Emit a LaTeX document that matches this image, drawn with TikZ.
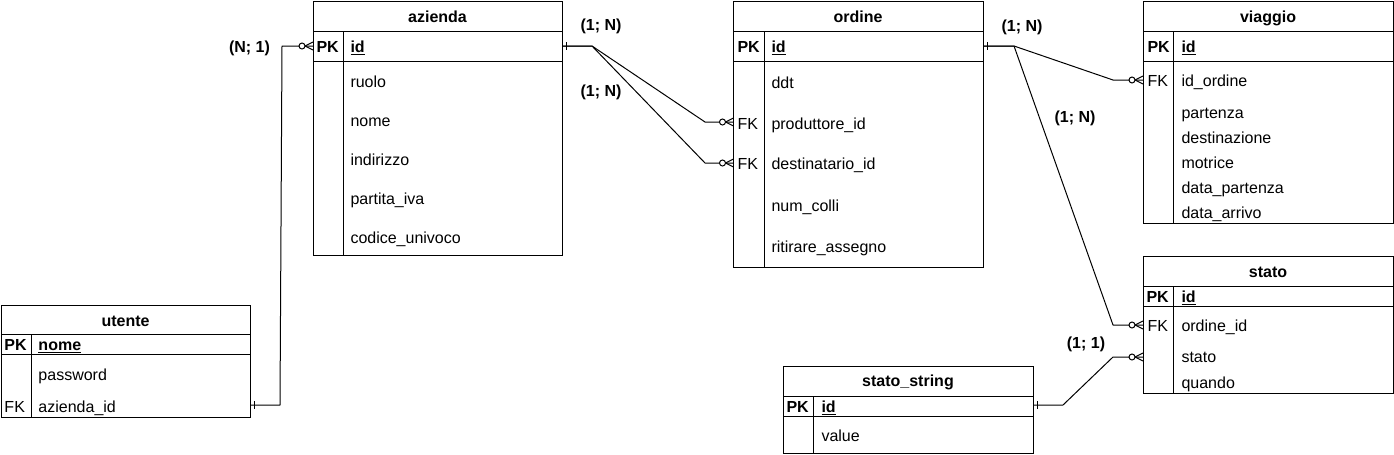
\documentclass[tikz,border=0pt]{standalone}
\usepackage{fontspec}
\setmainfont{Liberation Sans}
\usetikzlibrary{fit}
\tikzset{
  tbl/.style={draw, inner sep=0pt, outer sep=0pt},
  hdr/.style={anchor=base, inner sep=0pt, font=\bfseries\fontsize{12}{14}\selectfont},
  key/.style={anchor=base west, inner sep=0pt, font=\bfseries\fontsize{12}{14}\selectfont},
  fld/.style={anchor=base west, inner sep=0pt, font=\fontsize{12}{14}\selectfont},
  card/.style={anchor=center, inner sep=0pt, font=\bfseries\fontsize{12}{14}\selectfont},
  conn/.style={draw, line join=round},
  zmany/.pic={
    \draw (-8,0) -- (0,-4) (-8,0) -- (0,4);
    \draw[fill=white] (-11,0) circle (3);
  },
  oneend/.pic={\draw (4,-4) -- (4,4);}
}
\begin{document}
\begin{tikzpicture}[x=0.75pt,y=-0.75pt,line width=0.75pt]
\useasboundingbox (0,0) rectangle (1394,454);

% ---------- azienda ----------
\node[tbl, fit={(313,1)(562,255)}] (azienda) {};
\draw (313,31) -- (562,31) (313,61) -- (562,61) (343,31) -- (343,255);
\node[hdr] (az-h) at (437.5,22) {azienda};
\node[key] (az-pk) at (316,52) {PK};
\node[key] (az-id) at (350,52) {\underline{id}};
\node[fld] (az-r1) at (350,87.5) {ruolo};
\node[fld] (az-r2) at (350,126.5) {nome};
\node[fld] (az-r3) at (350,165.5) {indirizzo};
\node[fld] (az-r4) at (350,204.5) {partita\_iva};
\node[fld] (az-r5) at (350,243.5) {codice\_univoco};

% ---------- ordine ----------
\node[tbl, fit={(733.5,1)(983,267)}] (ordine) {};
\draw (733.5,31) -- (983,31) (733.5,61) -- (983,61) (764,31) -- (764,267);
\node[hdr] (or-h) at (858,22) {ordine};
\node[key] (or-pk) at (737,52) {PK};
\node[key] (or-id) at (771,52) {\underline{id}};
\node[fld] (or-r1) at (771,88.6) {ddt};
\node[fld] (or-fk1) at (737,129.6) {FK};
\node[fld] (or-r2) at (771,129.6) {produttore\_id};
\node[fld] (or-fk2) at (737,169.6) {FK};
\node[fld] (or-r3) at (771,169.6) {destinatario\_id};
\node[fld] (or-r4) at (771,211.3) {num\_colli};
\node[fld] (or-r5) at (771,252.3) {ritirare\_assegno};

% ---------- viaggio ----------
\node[tbl, fit={(1143,1)(1393,223)}] (viaggio) {};
\draw (1143,31) -- (1393,31) (1143,61) -- (1393,61) (1173,31) -- (1173,223);
\node[hdr] (vi-h) at (1268,22) {viaggio};
\node[key] (vi-pk) at (1147,52) {PK};
\node[key] (vi-id) at (1181,52) {\underline{id}};
\node[fld] (vi-fk) at (1147,86.6) {FK};
\node[fld] (vi-r1) at (1181,86.6) {id\_ordine};
\node[fld] (vi-r2) at (1181,118) {partenza};
\node[fld] (vi-r3) at (1181,143) {destinazione};
\node[fld] (vi-r4) at (1181,168) {motrice};
\node[fld] (vi-r5) at (1181,193) {data\_partenza};
\node[fld] (vi-r6) at (1181,218) {data\_arrivo};

% ---------- stato ----------
\node[tbl, fit={(1143,256)(1393,393)}] (stato) {};
\draw (1143,286) -- (1393,286) (1143,306) -- (1393,306) (1173,286) -- (1173,393);
\node[hdr] (st-h) at (1268,277.5) {stato};
\node[key] (st-pk) at (1146,302) {PK};
\node[key] (st-id) at (1181,302) {\underline{id}};
\node[fld] (st-fk) at (1147,331) {FK};
\node[fld] (st-r1) at (1181,331) {ordine\_id};
\node[fld] (st-r2) at (1181,362.5) {stato};
\node[fld] (st-r3) at (1181,388) {quando};

% ---------- stato_string ----------
\node[tbl, fit={(783,366)(1033,453)}] (statostring) {};
\draw (783,396) -- (1033,396) (783,416) -- (1033,416) (813,396) -- (813,453);
\node[hdr] (ss-h) at (908,386.5) {stato\_string};
\node[key] (ss-pk) at (786,412) {PK};
\node[key] (ss-id) at (821,412) {\underline{id}};
\node[fld] (ss-r1) at (821,441.5) {value};

% ---------- utente ----------
\node[tbl, fit={(1,305)(250,417)}] (utente) {};
\draw (1,334) -- (250,334) (1,354) -- (250,354) (31,334) -- (31,417);
\node[hdr] (ut-h) at (125.5,326) {utente};
\node[key] (ut-pk) at (4,350.5) {PK};
\node[key] (ut-id) at (38,350.5) {\underline{nome}};
\node[fld] (ut-r1) at (38,380.5) {password};
\node[fld] (ut-fk) at (4,412.3) {FK};
\node[fld] (ut-r2) at (38,412.3) {azienda\_id};

% ---------- ports ----------
\coordinate (p-ut) at (utente.east |- 0,405);
\coordinate (p-azw) at (azienda.west |- 0,46);
\coordinate (p-aze) at (azienda.east |- 0,46);
\coordinate (p-or1) at (ordine.west |- 0,122);
\coordinate (p-or2) at (ordine.west |- 0,163);
\coordinate (p-ore) at (ordine.east |- 0,46);
\coordinate (p-vi) at (viaggio.west |- 0,80);
\coordinate (p-st1) at (stato.west |- 0,325);
\coordinate (p-st2) at (stato.west |- 0,357);
\coordinate (p-ss) at (statostring.east |- 0,405);

% ---------- connectors ----------
\draw[conn] (p-ut) -- (280,405) -- (282,46) -- (p-azw);
\draw[conn] (p-aze) -- (592,46) -- (705,122) -- (p-or1);
\draw[conn] (p-aze) -- (592,46) -- (705,163) -- (p-or2);
\draw[conn] (p-ore) -- (1014,46) -- (1113,80) -- (p-vi);
\draw[conn] (p-ore) -- (1014,46) -- (1113,325) -- (p-st1);
\draw[conn] (p-ss) -- (1063,405) -- (1113,357) -- (p-st2);

\pic at (p-azw) {zmany};
\pic at (p-or1) {zmany};
\pic at (p-or2) {zmany};
\pic at (p-vi) {zmany};
\pic at (p-st1) {zmany};
\pic at (p-st2) {zmany};
\pic at (p-ut) {oneend};
\pic at (p-aze) {oneend};
\pic at (p-ore) {oneend};
\pic at (p-ss) {oneend};

% ---------- cardinalities ----------
\node[card] (c1) at (249.5,48) {(N; 1)};
\node[card] (c2) at (601,26.5) {(1; N)};
\node[card] (c3) at (601,92.5) {(1; N)};
\node[card] (c4) at (1022,27) {(1; N)};
\node[card] (c5) at (1075,118.5) {(1; N)};
\node[card] (c6) at (1086,344) {(1; 1)};
\end{tikzpicture}
\end{document}
